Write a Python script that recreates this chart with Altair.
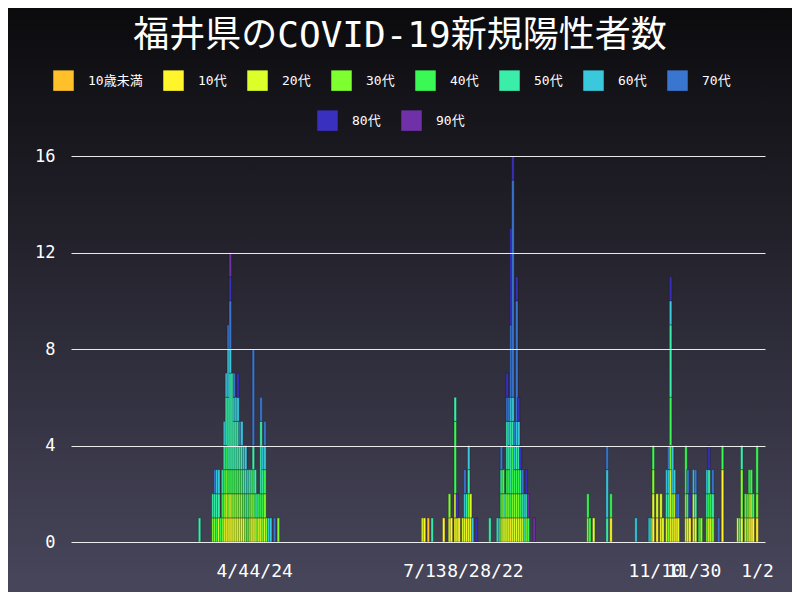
import altair as alt
import pandas as pd

# ---- categories / colours ----
age_groups = ["10歳未満", "10代", "20代", "30代", "40代", "50代", "60代", "70代", "80代", "90代"]
age_colors = ["#FFC02A", "#FFF52A", "#DCFF2A", "#7DFF30", "#3AF955",
              "#3AEEAA", "#3AC8DC", "#3A76D0", "#3A30BF", "#7030A8"]

# ---- daily cases: each digit = one case, digit = index into age_groups ----
wave1_dates = ["2020-03-18", "2020-03-25", "2020-03-26", "2020-03-27", "2020-03-28", "2020-03-29",
               "2020-03-30", "2020-03-31", "2020-04-01", "2020-04-02", "2020-04-03", "2020-04-04",
               "2020-04-05", "2020-04-06", "2020-04-07", "2020-04-08", "2020-04-09", "2020-04-10",
               "2020-04-11", "2020-04-12", "2020-04-13", "2020-04-14", "2020-04-15", "2020-04-16",
               "2020-04-17", "2020-04-18", "2020-04-19", "2020-04-20", "2020-04-21", "2020-04-22",
               "2020-04-23", "2020-04-24", "2020-04-26", "2020-04-28"]
wave1_ages = ["5", "35", "357", "456", "256", "4", "345", "23456", "1234556", "234555667",
              "124555567789", "2345555", "2345567", "234556", "2345568", "23457", "23456", "2456",
              "3456", "456", "345", "235", "23457777", "245", "35", "24", "245557", "3456",
              "23467", "3", "6", "6", "7", "3"]

wave2_dates = ["2020-07-12", "2020-07-13", "2020-07-15", "2020-07-17", "2020-07-23", "2020-07-26",
               "2020-07-27", "2020-07-29", "2020-07-30", "2020-07-31", "2020-08-02", "2020-08-03",
               "2020-08-04", "2020-08-05", "2020-08-06", "2020-08-07", "2020-08-09", "2020-08-16",
               "2020-08-20", "2020-08-21", "2020-08-22", "2020-08-23", "2020-08-24", "2020-08-25",
               "2020-08-26", "2020-08-27", "2020-08-28", "2020-08-29", "2020-08-30", "2020-08-31",
               "2020-09-01", "2020-09-02", "2020-09-03", "2020-09-04", "2020-09-05", "2020-09-08"]
wave2_ages = ["2", "1", "0", "5", "1", "23", "1", "124445", "28", "1", "2", "267", "15", "2356",
              "12", "6", "8", "5", "5", "6", "3457", "234", "25", "2345578", "234567",
              "1455567778888", "2344567777777778", "23467", "23456777778", "234568", "2458",
              "257", "56", "358", "49", "9"]

wave3_dates = ["2020-10-06", "2020-10-07", "2020-10-09", "2020-10-16", "2020-10-18", "2020-10-31",
               "2020-11-07", "2020-11-08", "2020-11-09", "2020-11-11", "2020-11-13", "2020-11-14",
               "2020-11-16", "2020-11-17", "2020-11-18", "2020-11-19", "2020-11-20", "2020-11-21",
               "2020-11-22", "2020-11-26", "2020-11-27", "2020-11-28", "2020-11-30", "2020-12-01",
               "2020-12-03", "2020-12-04", "2020-12-07", "2020-12-08", "2020-12-09", "2020-12-10",
               "2020-12-13", "2020-12-15", "2020-12-23", "2020-12-24", "2020-12-25", "2020-12-27",
               "2020-12-28", "2020-12-29", "2020-12-30", "2020-12-31", "2021-01-02"]
wave3_ages = ["34", "4", "2", "5667", "14", "6", "6", "5", "1234", "12", "12", "2", "256", "3567",
              "12234455568", "2366", "126", "17", "27", "2344", "257", "18", "126", "257", "4", "3",
              "356", "2458", "24", "357", "7", "1114", "2", "5", "2335", "23", "34", "234", "124",
              "14", "1344"]

tick_dates = ["2020-04-04", "2020-04-24", "2020-07-13", "2020-08-02", "2020-08-22",
              "2020-11-10", "2020-11-30", "2021-01-02"]
y_ticks = [0, 4, 8, 12, 16]

# ---- build table ----
rows = []
for dates, ages in [(wave1_dates, wave1_ages), (wave2_dates, wave2_ages), (wave3_dates, wave3_ages)]:
    for d, a in zip(dates, ages):
        for idx in sorted(set(a)):
            i = int(idx)
            rows.append({"date": d, "age": age_groups[i], "idx": i, "count": a.count(idx)})
df = pd.DataFrame(rows)


def dt(s, hours=0):
    y, m, d = (int(v) for v in s.split("-"))
    return alt.DateTime(year=y, month=m, date=d, hours=hours, utc=True)


MONO = "DejaVu Sans Mono, Noto Sans CJK JP"

x_enc = alt.X(
    "date:T",
    scale=alt.Scale(type="utc", domain=[dt("2020-01-13", 18), dt("2021-01-03", 12)]),
    axis=alt.Axis(values=[dt(s) for s in tick_dates],
                  labelExpr="utcFormat(datum.value, '%-m/%-d')",
                  title=None, grid=False, domain=False, ticks=False, labelOverlap=False,
                  labelFlush=False, labelPadding=20, labelFontSize=18, labelColor="white",
                  labelFont=MONO, zindex=1),
)
y_enc = alt.Y(
    "count:Q", stack="zero",
    scale=alt.Scale(domain=[0, 16], nice=False),
    axis=alt.Axis(values=y_ticks, title=None, grid=True, gridColor="#ffffff", gridOpacity=0.9,
                  gridWidth=1, domain=False, ticks=False, labelPadding=16, labelFontSize=17,
                  labelColor="white", labelFont=MONO, zindex=1),
)

legend_common = dict(orient="none", direction="horizontal", title=None, symbolType="square",
                     symbolSize=420, symbolStrokeWidth=0, labelFont=MONO, labelFontSize=13,
                     labelColor="white", labelOffset=14, columnPadding=20, padding=0)

bg = alt.Chart(pd.DataFrame({"k": [0]})).mark_rect(
    fill=alt.LinearGradient(
        gradient="linear",
        stops=[alt.GradientStop(color="#0b0b0e", offset=0),
               alt.GradientStop(color="#1d1c24", offset=0.3),
               alt.GradientStop(color="#48465b", offset=1)],
        x1=0, x2=0, y1=0, y2=1),
).encode(x=alt.value(-63), x2=alt.value(721), y=alt.value(-148), y2=alt.value(436))

bars = alt.Chart(df).mark_bar(width=2.5, stroke="#15151a", strokeWidth=0.35).encode(
    x=x_enc,
    y=y_enc,
    color=alt.Color("age:N", scale=alt.Scale(domain=age_groups, range=age_colors),
                    legend=alt.Legend(values=age_groups[:8], legendX=-18, legendY=-86,
                                      **legend_common)),
    order=alt.Order("idx:Q", sort="ascending"),
)

legend2 = alt.Chart(df).transform_filter("datum.count < 0").mark_bar().encode(
    x=x_enc,
    y=y_enc,
    color=alt.Color("age:N", scale=alt.Scale(domain=age_groups[8:], range=age_colors[8:]),
                    legend=alt.Legend(legendX=246, legendY=-46, **legend_common)),
)

chart = alt.layer(bg, bars, legend2).resolve_scale(color="independent").properties(
    width=694,
    height=386,
    autosize="none",
    padding={"left": 63, "top": 148, "right": 27, "bottom": 50},
    background="#1d1c24",
    title=alt.TitleParams("福井県のCOVID-19新規陽性者数", fontSize=36, font=MONO,
                          fontWeight="normal", color="white", anchor="middle", offset=-47,
                          dx=-18),
).configure_view(stroke=None)

chart.save("out.html", embed_options={"renderer": "svg", "actions": False})
